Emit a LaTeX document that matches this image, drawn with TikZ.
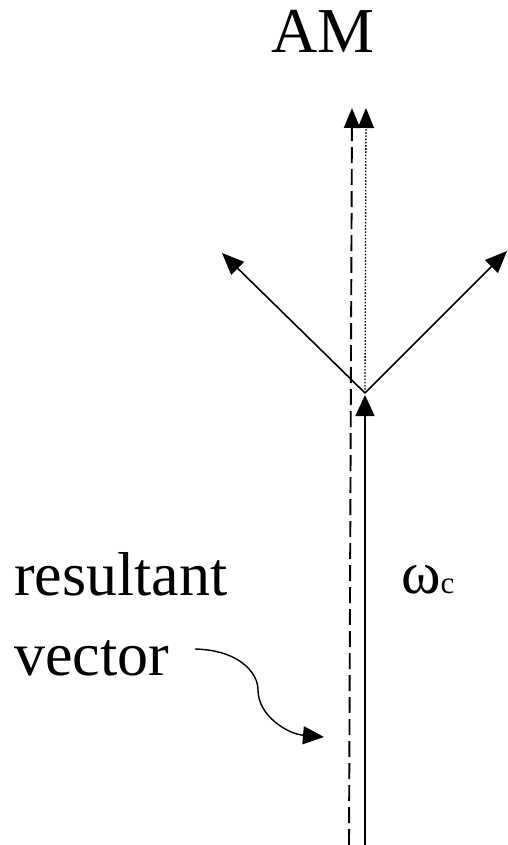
\documentclass[tikz,border=0pt]{standalone}
\usepackage{fontspec}
\newfontfamily\fa{Liberation Serif}
\usetikzlibrary{arrows.meta}
\tikzset{
  vec/.style={line width=1.7pt, -{Triangle[length=21pt,width=19pt]}},
  diagvec/.style={line width=1.6pt, -{Triangle[length=22pt,width=18pt]}},
  dashvec/.style={line width=1.9pt, dash pattern=on 16pt off 6pt, -{Triangle[length=20pt,width=16pt]}},
  dotvec/.style={line width=1.3pt, dash pattern=on 1.6pt off 1.6pt, -{Triangle[length=20pt,width=16pt]}},
  lbl/.style={inner sep=0pt, anchor=base west, font=\fa\fontsize{62}{70}\selectfont},
}
\begin{document}
\begin{tikzpicture}[x=1pt,y=-1pt]
\useasboundingbox (0,0) rectangle (508,845);
% coordinates
\coordinate (v) at (365,393);
\coordinate (dashbot) at (349,845);
\coordinate (dashtop) at (352,108);
\coordinate (dottop) at (366,108);
\coordinate (solidbot) at (365,845);
\coordinate (solidtop) at (365,395);
\coordinate (lefttip) at (222,253);
\coordinate (righttip) at (507,251);
\coordinate (curvetip) at (324,737);
% labels
\node[inner sep=0pt, anchor=base, font=\fa\fontsize{64}{70}\selectfont] (am) at (323,53) {AM};
\node[lbl] (res) at (14,595) {resultant};
\node[lbl] (vec) at (14,675) {vector};
\node[inner sep=0pt, anchor=base west, font=\fa\fontsize{60}{64}\selectfont] (wc) at (401,593) {ω\fontsize{31}{36}\selectfont c};
% vectors
\draw[dashvec] (dashbot) -- (dashtop);
\draw[dotvec] (v) -- (dottop);
\draw[vec] (solidbot) -- (solidtop);
\draw[diagvec] (v) -- (lefttip);
\draw[diagvec] (v) -- (righttip);
% curved pointer
\coordinate (cstart) at (195,649);
\draw[line width=1.4pt, -{Triangle[length=21pt,width=18pt]}] (cstart) .. controls (238,650) and (258,672) .. (258,690) .. controls (258,716) and (288,734) .. (curvetip);
\end{tikzpicture}
\end{document}
